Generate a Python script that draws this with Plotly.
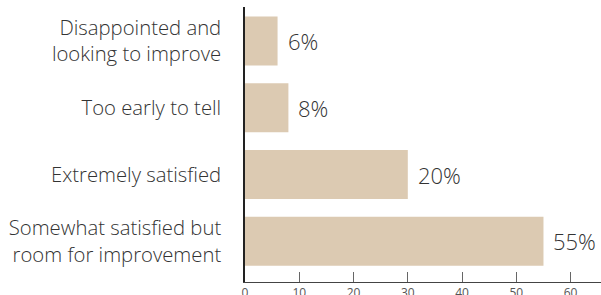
import plotly.graph_objects as go

categories = ["Disappointed and<br>looking to improve", "Too early to tell",
              "Extremely satisfied", "Somewhat satisfied but<br>room for improvement"]
values = [6, 8, 30, 55]
value_labels = ["6%", "8%", "20%", "55%"]
x_ticks = [0, 10, 20, 30, 40, 50, 60]

fig = go.Figure()
fig.add_trace(go.Bar(
    y=categories, x=values, orientation="h",
    marker=dict(color="#DCCAB2", line=dict(width=0)),
    hoverinfo="skip",
))
for c, v, t in zip(categories, values, value_labels):
    fig.add_annotation(x=v, y=c, text=t, showarrow=False, xanchor="left",
                       xshift=8, font=dict(family="Open Sans", size=22, color="#333333", weight=300))

fig.update_layout(
    width=601, height=295,
    margin=dict(l=245, r=0, t=7, b=13),
    paper_bgcolor="white", plot_bgcolor="white",
    bargap=0.265,
    showlegend=False,
    font=dict(family="Open Sans", color="#333333"),
)
fig.update_yaxes(
    type="category", categoryorder="array", categoryarray=categories,
    range=[3.61, -0.51], automargin=False,
    showline=True, linecolor="#222222", linewidth=1.5,
    ticks="", showgrid=False, zeroline=False,
    tickfont=dict(family="Open Sans", size=20.3, color="#333333", weight=300),
    ticklabelstandoff=18,
)
fig.update_xaxes(
    range=[0, 65.6], tickvals=x_ticks, automargin=False,
    showline=True, linecolor="#444444", linewidth=1,
    ticks="inside", ticklen=10, tickcolor="#666666", tickwidth=1,
    showgrid=False, zeroline=False,
    tickfont=dict(family="Open Sans", size=12, color="#555555"),
)
fig.write_html("out.html", config={"displayModeBar": False},
               post_script="document.body.style.margin='0';document.body.style.overflow='hidden';")
